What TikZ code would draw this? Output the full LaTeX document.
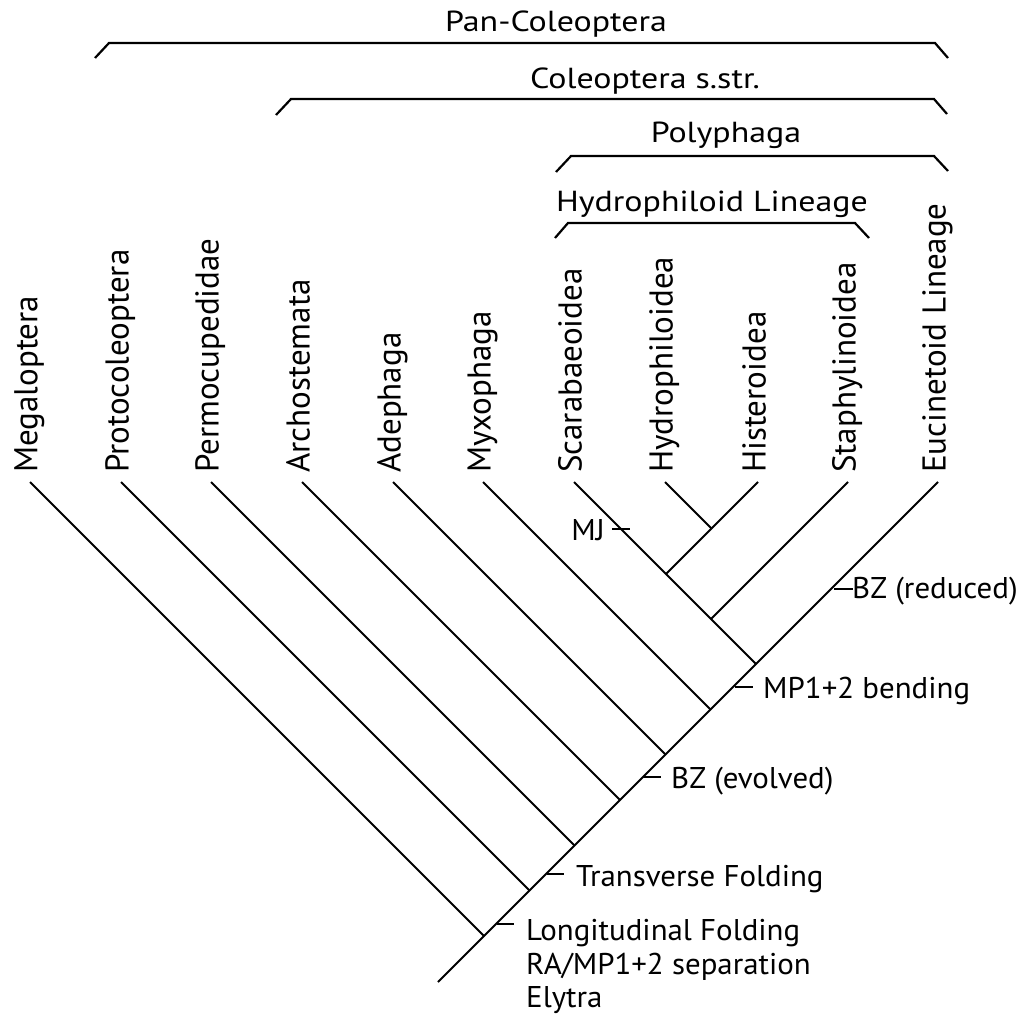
\documentclass[tikz,border=0pt]{standalone}
\usepackage{fontspec}
\setmainfont{PT Sans}
\newfontfamily\bracketfont[FakeStretch=1.17]{PT Sans}
\newfontfamily\annfont[FakeStretch=1.03]{PT Sans}
\begin{document}
\begin{tikzpicture}[x=1pt,y=-1pt,
  edge/.style={line width=1.8pt, line cap=butt},
  brk/.style={line width=2.2pt, line join=miter},
  tickmark/.style={line width=1.8pt},
  taxon/.style={rotate=90, anchor=base west, inner sep=0pt, font=\fontsize{33}{40}\selectfont},
  clade/.style={anchor=base, inner sep=0pt, font=\bracketfont\fontsize{29}{34}\selectfont},
  ann/.style={anchor=base west, inner sep=0pt, font=\annfont\fontsize{30}{33.5}\selectfont, align=left}]
\useasboundingbox (0,0) rectangle (1021,1016);

% tips
\coordinate (tMega)  at (30,482);
\coordinate (tProto) at (121,482);
\coordinate (tPermo) at (211,482);
\coordinate (tArcho) at (302,482);
\coordinate (tAdeph) at (393,482);
\coordinate (tMyxo)  at (483,482);
\coordinate (tScar)  at (574,482);
\coordinate (tHydr)  at (665,482);
\coordinate (tHist)  at (758,482);
\coordinate (tStap)  at (848,482);
\coordinate (tEuci)  at (938,482);

% internal nodes
\coordinate (root)  at (438,982);
\coordinate (jMega) at (484,936);
\coordinate (jProto) at (529.5,890.5);
\coordinate (jPermo) at (574.5,845.5);
\coordinate (jArcho) at (620,800);
\coordinate (jAdeph) at (665.5,754.5);
\coordinate (jMyxo) at (710.5,709.5);
\coordinate (jPoly) at (756,664);
\coordinate (jStap) at (711,619);
\coordinate (jHH)   at (666,574);
\coordinate (jHydr) at (711.5,528.5);

% tree
\draw[edge] (root) -- (tEuci);
\draw[edge] (jMega) -- (tMega);
\draw[edge] (jProto) -- (tProto);
\draw[edge] (jPermo) -- (tPermo);
\draw[edge] (jArcho) -- (tArcho);
\draw[edge] (jAdeph) -- (tAdeph);
\draw[edge] (jMyxo) -- (tMyxo);
\draw[edge] (jPoly) -- (tScar);
\draw[edge] (jStap) -- (tStap);
\draw[edge] (jHH) -- (jHydr);
\draw[edge] (jHydr) -- (tHydr);
\draw[edge] (jHydr) -- (tHist);

% taxon labels
\node[taxon] (lMega)  at (37.5,473) {Megaloptera};
\node[taxon] (lProto) at (128.5,473) {Protocoleoptera};
\node[taxon] (lPermo) at (218.5,473) {Permocupedidae};
\node[taxon] (lArcho) at (309.5,473) {Archostemata};
\node[taxon] (lAdeph) at (400.5,473) {Adephaga};
\node[taxon] (lMyxo)  at (490.5,473) {Myxophaga};
\node[taxon] (lScar)  at (581.5,473) {Scarabaeoidea};
\node[taxon] (lHydr)  at (672.5,473) {Hydrophiloidea};
\node[taxon] (lHist)  at (765.5,473) {Histeroidea};
\node[taxon] (lStap)  at (855.5,473) {Staphylinoidea};
\node[taxon] (lEuci)  at (945.5,473) {Eucinetoid Lineage};

% brackets
\draw[brk] (95,58) -- (109,43) -- (935,43) -- (948,58);
\node[clade] (cPan) at (556,32) {Pan-Coleoptera};
\draw[brk] (276,115) -- (291,99) -- (934,99) -- (947,114);
\node[clade] (cCol) at (645,89) {Coleoptera s.str.};
\draw[brk] (556,172) -- (571,156) -- (934,156) -- (948,171);
\node[clade] (cPoly) at (726,143) {Polyphaga};
\draw[brk] (555,238) -- (568,223) -- (855,223) -- (869,238);
\node[clade] (cHydr) at (712,212) {Hydrophiloid Lineage};

% character ticks and labels
\coordinate (kMJ1) at (612,529); \coordinate (kMJ2) at (630,529);
\draw[tickmark] (kMJ1) -- (kMJ2);
\node[ann, anchor=base east] (aMJ) at (605,540) {MJ};

\coordinate (kBZr1) at (834,589); \coordinate (kBZr2) at (853,589);
\draw[tickmark] (kBZr1) -- (kBZr2);
\node[ann] (aBZr) at (852,598) {BZ (reduced)};

\coordinate (kMP1) at (735,687); \coordinate (kMP2) at (753,687);
\draw[tickmark] (kMP1) -- (kMP2);
\node[ann] (aMP) at (763,698) {MP1+2 bending};

\coordinate (kBZe1) at (643,777); \coordinate (kBZe2) at (661,777);
\draw[tickmark] (kBZe1) -- (kBZe2);
\node[ann] (aBZe) at (671,788) {BZ (evolved)};

\coordinate (kTF1) at (547,874); \coordinate (kTF2) at (564,874);
\draw[tickmark] (kTF1) -- (kTF2);
\node[ann] (aTF) at (576,886) {Transverse Folding};

\coordinate (kLF1) at (497,924); \coordinate (kLF2) at (514,924);
\draw[tickmark] (kLF1) -- (kLF2);
\node[ann, anchor=north west] (aLF) at (526,919.5) {Longitudinal Folding\\RA/MP1+2 separation\\Elytra};
\end{tikzpicture}
\end{document}
